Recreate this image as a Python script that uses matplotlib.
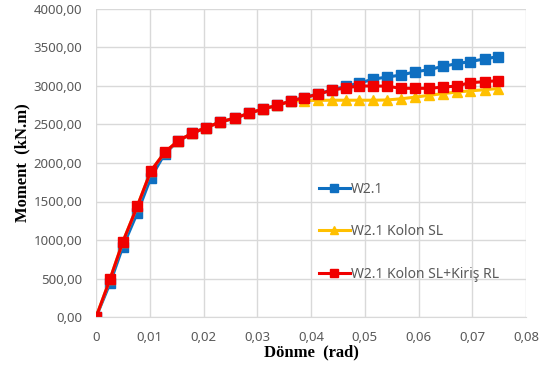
import matplotlib.pyplot as plt
from matplotlib.ticker import FuncFormatter

# Dönme (rad)
donme = [0, 0.0026, 0.0050, 0.0077, 0.0102, 0.0128, 0.0153, 0.0179, 0.0204, 0.0230,
         0.0258, 0.0285, 0.0310, 0.0337, 0.0363, 0.0387, 0.0413, 0.0439, 0.0465, 0.0490,
         0.0516, 0.0541, 0.0567, 0.0594, 0.0619, 0.0645, 0.0671, 0.0696, 0.0723, 0.0747]

w21 = [0, 440, 915, 1355, 1808, 2120, 2285, 2383, 2456, 2526,
       2581, 2642, 2698, 2745, 2804, 2843, 2892, 2945, 2990, 3035,
       3085, 3112, 3137, 3180, 3207, 3250, 3285, 3313, 3346, 3376]

w21_kolon_sl = [0, 492, 979, 1442, 1895, 2137, 2288, 2383, 2456, 2526,
                2581, 2642, 2698, 2745, 2800, 2808, 2810, 2812, 2812, 2812,
                2812, 2815, 2830, 2852, 2875, 2897, 2918, 2933, 2948, 2963]

w21_kolon_kiris = [0, 492, 979, 1442, 1895, 2137, 2288, 2383, 2456, 2526,
                   2581, 2642, 2698, 2745, 2804, 2843, 2892, 2940, 2974, 2996,
                   2996, 2994, 2966, 2966, 2966, 2981, 2996, 3039, 3052, 3065]

fig = plt.figure(figsize=(5.53, 3.74), dpi=100)
ax = fig.add_axes([96 / 553, 1 - 317.3 / 374, 430 / 553, 308.8 / 374])

ax.plot(donme, w21, color="#0E6FC1", marker="s", markersize=6.5, linewidth=2.2, label="W2.1")
ax.plot(donme, w21_kolon_sl, color="#FFC000", marker="^", markersize=7, linewidth=2.2, label="W2.1 Kolon SL")
ax.plot(donme, w21_kolon_kiris, color="#F00000", marker="s", markersize=7.5, linewidth=2.2,
        label="W2.1 Kolon SL+Kiriş RL")

ax.set_xlim(0, 0.08)
ax.set_ylim(0, 4000)
ax.set_xticks([0, 0.01, 0.02, 0.03, 0.04, 0.05, 0.06, 0.07, 0.08])
ax.set_yticks(range(0, 4001, 500))
ax.xaxis.set_major_formatter(FuncFormatter(lambda v, p: "0" if v == 0 else f"{v:.2f}".replace(".", ",")))
ax.yaxis.set_major_formatter(FuncFormatter(lambda v, p: f"{v:.2f}".replace(".", ",")))

ax.grid(True, color="#D9D9D9", linewidth=1)
ax.set_axisbelow(True)
for s in ax.spines.values():
    s.set_visible(False)
ax.spines["bottom"].set_visible(True)
ax.spines["bottom"].set_color("#D9D9D9")
ax.tick_params(length=0, labelsize=9.5, labelcolor="#595959", pad=10)
for lab in ax.get_xticklabels() + ax.get_yticklabels():
    lab.set_family("Noto Sans")

ax.set_xlabel("Dönme  (rad)", family="Liberation Serif", fontweight="bold", fontsize=12, labelpad=0)
ax.set_ylabel("Moment  (kN.m)", family="Liberation Serif", fontweight="bold", fontsize=12, labelpad=2)

ax.legend(loc="upper left", bbox_to_anchor=(0.49, 0.48), frameon=False, labelspacing=2.0,
          handlelength=2.2, handletextpad=0.1, prop={"family": "Noto Sans", "size": 10},
          labelcolor="#595959", markerscale=0.8)

fig.savefig("out.png", dpi=100)
